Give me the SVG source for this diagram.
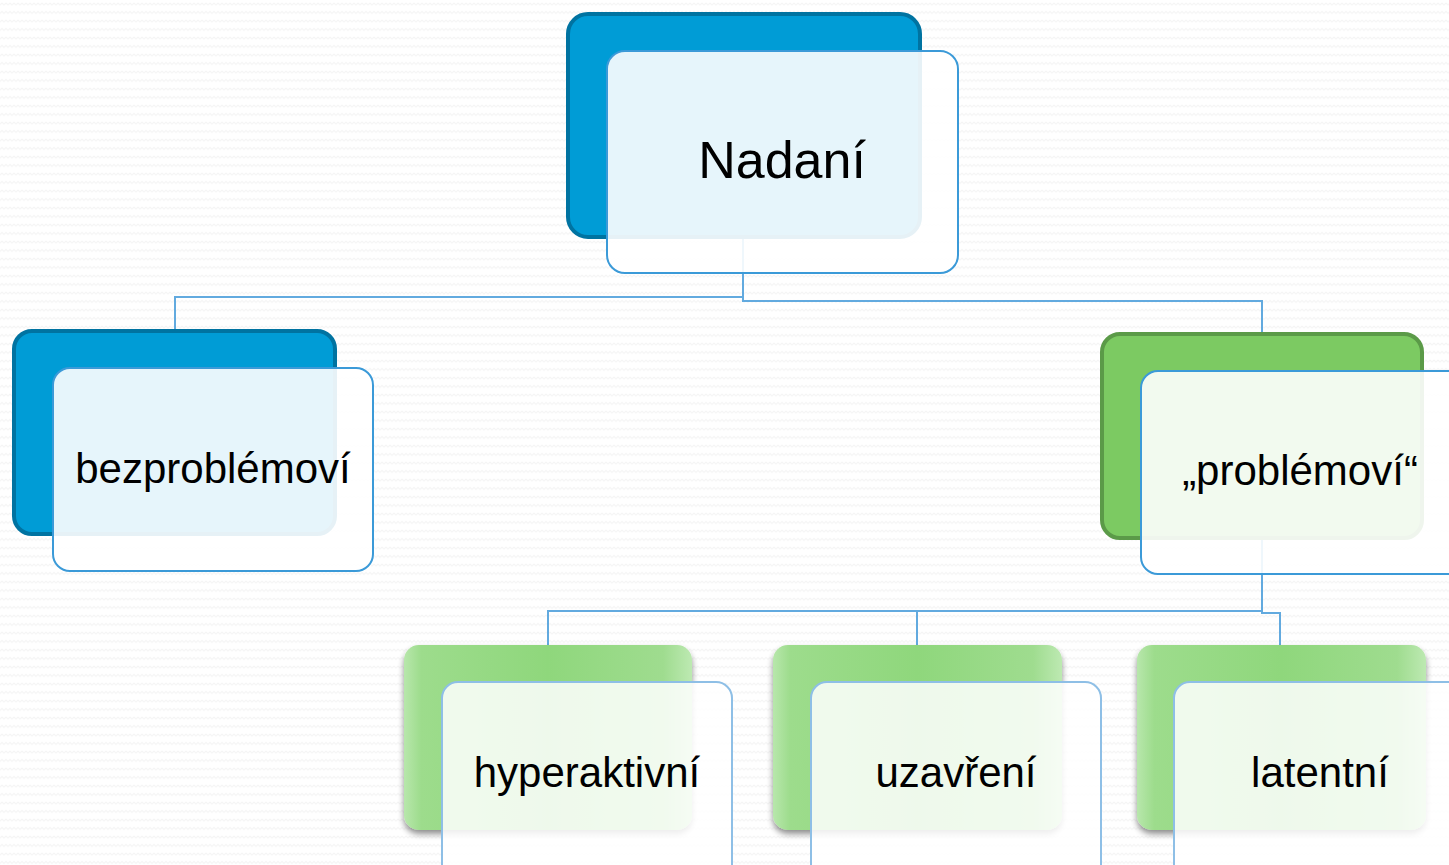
<svg xmlns="http://www.w3.org/2000/svg" width="1449" height="865" viewBox="0 0 1449 865">
<defs>
<pattern id="bg" width="8" height="8.5" patternUnits="userSpaceOnUse">
<path d="M0 5 L2 3 L4 5 L6 3 L8 5" fill="none" stroke="#f3f3f3" stroke-width="1"/>
</pattern>
<linearGradient id="gg" x1="0" y1="0" x2="1" y2="0">
<stop offset="0" stop-color="#b8e7ac"/>
<stop offset="0.06" stop-color="#9ddc8c"/>
<stop offset="0.5" stop-color="#8fd77c"/>
<stop offset="0.9" stop-color="#9fdc8f"/>
<stop offset="1" stop-color="#bde9b2"/>
</linearGradient>
<filter id="sh" x="-10%" y="-10%" width="120%" height="130%">
<feGaussianBlur in="SourceAlpha" stdDeviation="3"/>
<feOffset dx="0" dy="4"/>
<feComponentTransfer><feFuncA type="linear" slope="0.45"/></feComponentTransfer>
<feMerge><feMergeNode/><feMergeNode in="SourceGraphic"/></feMerge>
</filter>
</defs>
<style>
.blue{fill:#009cd6;stroke:#0073a1;stroke-width:4}
.green{fill:#7cca62;stroke:#5b9a48;stroke-width:4}
.lg{fill:url(#gg);filter:url(#sh)}
.front{fill:#ffffff;fill-opacity:0.9;stroke:#3b9ad8;stroke-width:2}
.frontg{fill:#ffffff;fill-opacity:0.85;stroke:#8ebfe6;stroke-width:2}
.conn{fill:none;stroke:#62aadf;stroke-width:2}
text{font-family:"Liberation Sans",Arial,sans-serif;fill:#000;text-anchor:middle}
</style>
<rect width="1449" height="865" fill="#ffffff"/>
<rect width="1449" height="865" fill="url(#bg)"/>
<g id="connectors">
<path class="conn" d="M743 238 V297 H175 V330"/>
<path class="conn" d="M743 238 V301 H1262 V333"/>
<path class="conn" d="M1262 539 V611 H548 V645"/>
<path class="conn" d="M1262 539 V611 H917 V645"/>
<path class="conn" d="M1262 539 V613 H1280 V645"/>
</g>
<g id="node-nadani">
<rect class="blue" x="568" y="14" width="352" height="223" rx="20"/>
<rect class="front" x="607" y="51" width="351" height="222" rx="18"/>
<text x="782" y="178" font-size="52">Nadaní</text>
</g>
<g id="node-bezproblemovi">
<rect class="blue" x="14" y="331" width="321" height="203" rx="18"/>
<rect class="front" x="53" y="368" width="320" height="203" rx="17"/>
<text x="213" y="483" font-size="42">bezproblémoví</text>
</g>
<g id="node-problemovi">
<rect class="green" x="1102" y="334" width="320" height="204" rx="18"/>
<rect class="front" x="1141" y="371" width="330" height="203" rx="17"/>
<text x="1300" y="485" font-size="42">„problémoví“</text>
</g>
<g id="node-hyperaktivni">
<rect class="lg" x="404" y="645" width="288" height="185" rx="15"/>
<rect class="frontg" x="442" y="682" width="290" height="200" rx="16"/>
<text x="587" y="787" font-size="42">hyperaktivní</text>
</g>
<g id="node-uzavreni">
<rect class="lg" x="773" y="645" width="289" height="185" rx="15"/>
<rect class="frontg" x="811" y="682" width="290" height="200" rx="16"/>
<text x="956" y="787" font-size="42">uzavření</text>
</g>
<g id="node-latentni">
<rect class="lg" x="1137" y="645" width="289" height="185" rx="15"/>
<rect class="frontg" x="1174" y="682" width="300" height="200" rx="16"/>
<text x="1320" y="787" font-size="42">latentní</text>
</g>
</svg>
